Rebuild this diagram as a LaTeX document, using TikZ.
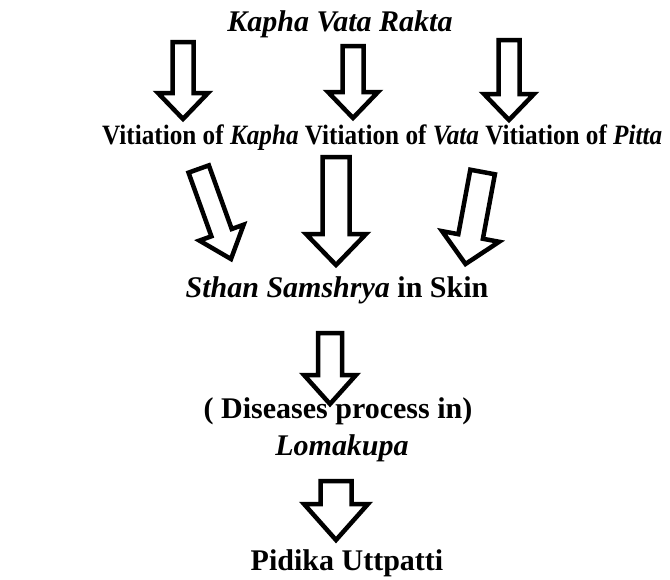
\documentclass[tikz,border=0pt]{standalone}
\usepackage{fontspec}
\usepackage{graphicx}
\setmainfont{Liberation Serif}
\usetikzlibrary{calc}
\newcommand*{\FatArrow}[5]{% #1 = tail, #2 = tip, #3 = half shaft, #4 = half head, #5 = head length
  \coordinate (#1#2) at ($(#2)!#5!(#1)$);
  \draw [fat arrow]
    ($(#1)!#3!90:(#2)$) -- ($(#1#2)!#3!90:(#2)$) -- ($(#1#2)!#4!90:(#2)$)
    -- (#2) -- ($(#1#2)!#4!-90:(#2)$) -- ($(#1#2)!#3!-90:(#2)$)
    -- ($(#1)!#3!-90:(#2)$) -- cycle;
}

\begin{document}
\begin{tikzpicture}[x=1pt,y=-1pt,
    fat arrow/.style={draw=black, fill=white, line width=4.5pt, miter limit=10},
    lbl/.style={font=\fontsize{30}{36}\selectfont\bfseries, inner sep=0pt, anchor=base}]
    \useasboundingbox (0,0) rectangle (670,579);

    % arrow ends
    \coordinate (a1) at (183,42);   \coordinate (b1) at (183,119);
    \coordinate (a2) at (353,46);   \coordinate (b2) at (353,118);
    \coordinate (a3) at (509,40);   \coordinate (b3) at (509,120);
    \coordinate (c1) at (198.7,169); \coordinate (d1) at (231,259);
    \coordinate (c2) at (336,157);  \coordinate (d2) at (336,265);
    \coordinate (c3) at (482.6,172); \coordinate (d3) at (465.5,264);
    \coordinate (e1) at (330,333);  \coordinate (f1) at (330,404);
    \coordinate (g1) at (336,481);  \coordinate (h1) at (336,540);

    \FatArrow{a1}{b1}{10.5pt}{25pt}{26pt}
    \FatArrow{a2}{b2}{10.5pt}{25pt}{26pt}
    \FatArrow{a3}{b3}{10.5pt}{25pt}{26pt}
    \FatArrow{c1}{d1}{10.8pt}{23.5pt}{28pt}
    \FatArrow{c2}{d2}{13.5pt}{30pt}{31pt}
    \FatArrow{c3}{d3}{12.5pt}{29pt}{28pt}
    \FatArrow{e1}{f1}{12pt}{26pt}{29pt}
    \FatArrow{g1}{h1}{15.5pt}{32pt}{36pt}

    % texts
    \node [lbl] (dosha) at (340,31) {\itshape Kapha Vata Rakta};
    \node [lbl, anchor=base west, font=\fontsize{28}{34}\selectfont\bfseries] (vitiation) at (102,144)
      {\scalebox{0.9}[1]{Vitiation of \textit{Kapha} Vitiation of \textit{Vata} Vitiation of \textit{Pitta}}};
    \node [lbl] (sthan) at (337,297) {\textit{Sthan Samshrya} in Skin};
    \node [lbl] (process) at (338,418) {( Diseases process in)};
    \node [lbl] (loma) at (342,455) {\itshape Lomakupa};
    \node [lbl] (pidika) at (347,570) {Pidika Uttpatti};
\end{tikzpicture}
\end{document}
